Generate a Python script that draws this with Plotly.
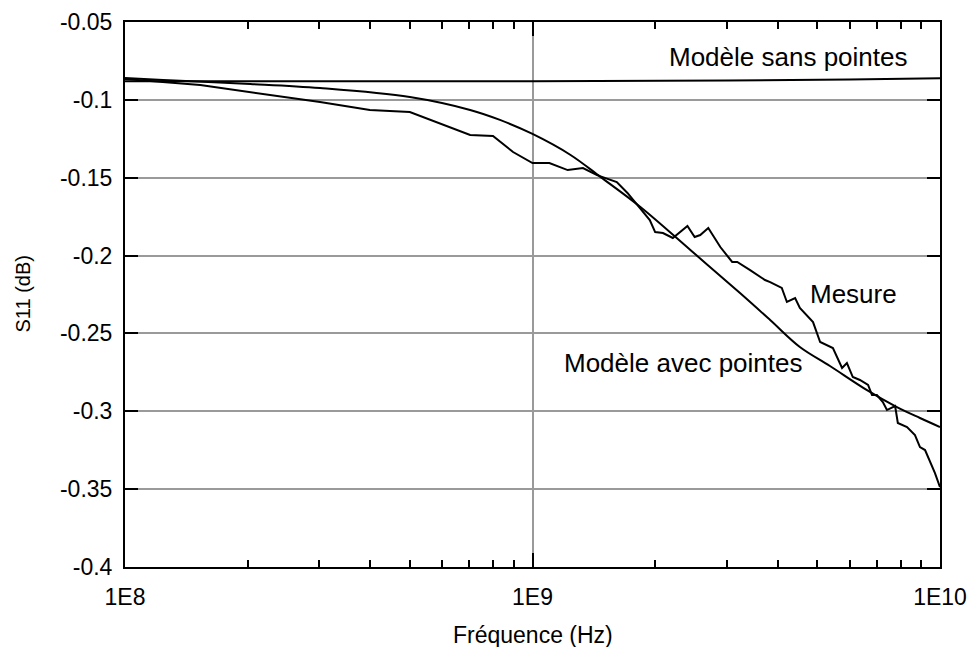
import plotly.graph_objects as go

# Mesure (frequence Hz, S11 dB)
mes_f = [1.00e8, 1.53e8, 3.01e8, 3.99e8, 5.00e8, 7.03e8, 8.00e8, 8.96e8, 1.00e9, 1.10e9,
         1.22e9, 1.33e9, 1.44e9, 1.61e9, 1.71e9, 1.94e9, 2.00e9, 2.09e9, 2.21e9, 2.40e9,
         2.50e9, 2.58e9, 2.70e9, 2.89e9, 3.09e9, 3.18e9, 3.42e9, 3.72e9, 3.83e9, 4.09e9,
         4.21e9, 4.41e9, 4.53e9, 4.88e9, 5.08e9, 5.46e9, 5.75e9, 5.91e9, 6.11e9, 6.36e9,
         6.66e9, 6.81e9, 7.00e9, 7.24e9, 7.41e9, 7.76e9, 7.88e9, 8.30e9, 8.68e9, 8.93e9,
         9.19e9, 9.55e9, 9.72e9, 1.00e10]
mes_s11 = [-0.0866, -0.0905, -0.1014, -0.1065, -0.1078, -0.1226, -0.1232, -0.1335, -0.1406, -0.1406,
           -0.1451, -0.1438, -0.1483, -0.1528, -0.1598, -0.1772, -0.1849, -0.1855, -0.1887, -0.1810,
           -0.1881, -0.1868, -0.1823, -0.1945, -0.2041, -0.2041, -0.2093, -0.2157, -0.2170, -0.2208,
           -0.2298, -0.2273, -0.2337, -0.2427, -0.2555, -0.2594, -0.2722, -0.2690, -0.2780, -0.2799,
           -0.2831, -0.2896, -0.2896, -0.2941, -0.2992, -0.2966, -0.3075, -0.3101, -0.3153, -0.3230,
           -0.3249, -0.3345, -0.3397, -0.3487]

# Modele avec pointes
avec_f = [1.00e8, 1.24e8, 2.03e8, 3.01e8, 5.00e8, 7.03e8, 8.32e8, 1.00e9, 1.24e9, 1.47e9,
          1.84e9, 2.44e9, 3.23e9, 3.83e9, 4.53e9, 5.37e9, 6.62e9, 7.84e9, 8.93e9, 1.00e10]
avec_s11 = [-0.0860, -0.0873, -0.0898, -0.0924, -0.0982, -0.1065, -0.1129, -0.1219, -0.1354, -0.1496,
            -0.1688, -0.1964, -0.2241, -0.2414, -0.2587, -0.2709, -0.2864, -0.2973, -0.3043, -0.3101]

# Modele sans pointes
sans_f = [1.00e8, 1.00e9, 3.00e9, 6.00e9, 1.00e10]
sans_s11 = [-0.0880, -0.0880, -0.0876, -0.0870, -0.0862]

x_ticks = [1e8, 1e9, 1e10]
x_labels = ["1E8", "1E9", "1E10"]
x_minor = [2e8, 3e8, 4e8, 5e8, 6e8, 7e8, 8e8, 9e8, 2e9, 3e9, 4e9, 5e9, 6e9, 7e9, 8e9, 9e9]
y_ticks = [-0.05, -0.1, -0.15, -0.2, -0.25, -0.3, -0.35, -0.4]
y_labels = ["-0.05", "-0.1", "-0.15", "-0.2", "-0.25", "-0.3", "-0.35", "-0.4"]

FONT = "Liberation Sans, Arial, sans-serif"

fig = go.Figure()
fig.add_trace(go.Scatter(x=sans_f, y=sans_s11, mode="lines", line=dict(color="black", width=2, shape="spline")))
fig.add_trace(go.Scatter(x=avec_f, y=avec_s11, mode="lines", line=dict(color="black", width=2, shape="spline")))
fig.add_trace(go.Scatter(x=mes_f, y=mes_s11, mode="lines", line=dict(color="black", width=2)))

txt = dict(family=FONT, size=26, color="#000")
fig.add_annotation(x=9.330, y=-0.0725, text="Modèle sans pointes", showarrow=False, xanchor="left", font=txt)
fig.add_annotation(x=9.072, y=-0.269, text="Modèle avec pointes", showarrow=False, xanchor="left", font=txt)
fig.add_annotation(x=9.676, y=-0.2247, text="Mesure", showarrow=False, xanchor="left", font=txt)

# axis titles
fig.add_annotation(x=0.5, y=0, xref="paper", yref="paper", yanchor="middle", yshift=-68,
                   text="Fréquence (Hz)", showarrow=False, font=dict(family=FONT, size=23, color="#000"))
fig.add_annotation(x=0, y=0.5, xref="paper", yref="paper", xanchor="center", xshift=-103,
                   text="S11 (dB)", textangle=-90, showarrow=False, font=dict(family=FONT, size=20, color="#000"))

fig.update_layout(
    width=971, height=647,
    margin=dict(l=125, r=31, t=22, b=80),
    plot_bgcolor="white", paper_bgcolor="white",
    showlegend=False,
    font=dict(family=FONT, size=23, color="#000"),
)
fig.update_xaxes(
    type="log", range=[8, 10],
    tickvals=x_ticks, ticktext=x_labels,
    ticks="inside", ticklen=14, tickwidth=2, tickcolor="black",
    showline=True, linecolor="black", linewidth=2, mirror="ticks",
    showgrid=True, gridcolor="#9a9a9a", gridwidth=2,
    minor=dict(tickvals=x_minor, ticks="inside", ticklen=7, tickwidth=2, tickcolor="black", showgrid=False),
    tickfont=dict(size=23), ticklabelstandoff=8, zeroline=False, automargin=False,
)
fig.update_yaxes(
    range=[-0.4, -0.05],
    tickvals=y_ticks, ticktext=y_labels,
    ticks="inside", ticklen=13, tickwidth=2, tickcolor="black",
    showline=True, linecolor="black", linewidth=2, mirror="ticks",
    showgrid=True, gridcolor="#9a9a9a", gridwidth=2,
    tickfont=dict(size=23), ticklabelstandoff=6, zeroline=False, automargin=False,
)

# drop the default 8px page margin so the figure fills the window exactly
fig.write_html("out.html", config={"displayModeBar": False},
               post_script="document.body.style.margin='0';")
